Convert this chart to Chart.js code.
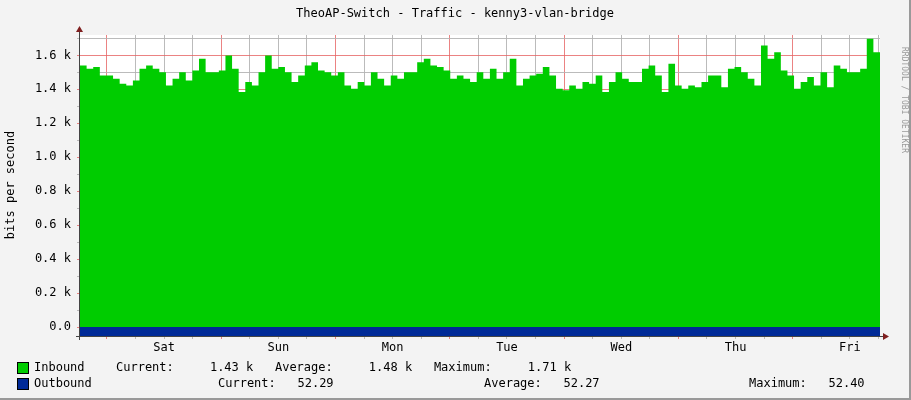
<!DOCTYPE html>
<html><head><meta charset="utf-8">
<script src="https://cdn.jsdelivr.net/npm/chart.js@4"></script>
<style>html,body{margin:0;padding:0;background:#f3f3f3}canvas{display:block}</style>
</head><body><div style="width:911px;height:400px"><canvas id="c"></canvas></div>
<script>
const title = "TheoAP-Switch - Traffic - kenny3-vlan-bridge";
const dayLabels = ["Sat","Sun","Mon","Tue","Wed","Thu","Fri"];
const spanHours = 168;
const firstMidnight = 5.667; // hours from left edge
const inbound = [1541,1521,1531,1482,1482,1462,1433,1423,1452,1521,1541,1521,1501,1423,1462,1501,1452,1511,1580,1501,1501,1511,1600,1521,1384,1443,1423,1501,1600,1521,1531,1501,1443,1482,1541,1560,1511,1501,1482,1501,1423,1403,1443,1423,1501,1462,1423,1482,1462,1501,1501,1560,1580,1541,1531,1511,1462,1482,1462,1443,1501,1462,
1521,1462,1501,1580,1423,1462,1482,1492,1531,1482,1403,1394,1423,1403,1443,1433,1482,1384,1443,1501,1462,1443,1443,1521,1541,1482,1384,1551,1423,1403,1423,1413,1443,1482,1482,1413,1521,1531,1501,1462,1423,1658,1580,1619,1511,1482,1403,1443,1472,1423,1501,1413,1541,1521,1501,1501,1521,1698,1619,1430];
const outboundValue = 52.29;
const legendRows = [
  ["Inbound","#00cc00","Current:     1.43 k   Average:     1.48 k   Maximum:     1.71 k", 116],
  ["Outbound","#002a97","Current:   52.29", 218]
];
const outExtra = [["Average:   52.27",484],["Maximum:   52.40",749]];

const n = inbound.length;
const inPts = inbound.map((v,i)=>({x: i*spanHours/(n-1), y: v}));
const outPts = inbound.map((v,i)=>({x: i*spanHours/(n-1), y: -outboundValue}));
const MONO = "'DejaVu Sans Mono', monospace";
const isMid = v => Math.abs(((v - firstMidnight) % 24 + 24) % 24) < 0.01;
const isNoon = v => Math.abs(((v - firstMidnight - 12) % 24 + 24) % 24) < 0.01;

const deco = {
  id:'deco',
  beforeDraw(c){
    const ctx=c.ctx, a=c.chartArea;
    ctx.save();
    ctx.fillStyle='#f3f3f3'; ctx.fillRect(0,0,c.width,c.height);
    ctx.fillStyle='#ffffff'; ctx.fillRect(a.left,a.top,a.right-a.left,a.bottom-a.top);
    ctx.restore();
  },
  afterDraw(c){
    const ctx=c.ctx, a=c.chartArea;
    ctx.save();
    ctx.fillStyle='#000'; ctx.font="12px "+MONO; ctx.textAlign='center'; ctx.textBaseline='middle';
    ctx.fillText(title,455,14);
    ctx.save(); ctx.translate(11,185); ctx.rotate(-Math.PI/2); ctx.fillText("bits per second",0,0); ctx.restore();
    ctx.save(); ctx.translate(904,100); ctx.rotate(Math.PI/2); ctx.fillStyle='#999'; ctx.font="8px "+MONO;
    ctx.fillText("RRDTOOL / TOBI OETIKER",0,0); ctx.restore();
    // axes
    ctx.strokeStyle='#444'; ctx.lineWidth=1;
    ctx.beginPath(); ctx.moveTo(a.left-0.5,a.bottom+4); ctx.lineTo(a.left-0.5,a.top-6); ctx.stroke();
    ctx.beginPath(); ctx.moveTo(a.left-4,a.bottom+0.5); ctx.lineTo(a.right+6,a.bottom+0.5); ctx.stroke();
    ctx.fillStyle='#7f1f1f';
    ctx.beginPath(); ctx.moveTo(a.left-4,a.top-3); ctx.lineTo(a.left+3,a.top-3); ctx.lineTo(a.left-0.5,a.top-9); ctx.fill();
    ctx.beginPath(); ctx.moveTo(a.right+3,a.bottom-3); ctx.lineTo(a.right+3,a.bottom+4); ctx.lineTo(a.right+9,a.bottom+0.5); ctx.fill();
    // legend
    ctx.textAlign='left'; ctx.font="12px "+MONO;
    legendRows.forEach((r,i)=>{
      const y=368+i*16;
      ctx.fillStyle=r[1]; ctx.fillRect(18,y-5,10,10);
      ctx.strokeStyle='#000'; ctx.strokeRect(17.5,y-5.5,11,11);
      ctx.fillStyle='#000'; ctx.fillText(r[0],34,y); ctx.fillText(r[2],r[3],y);
    });
    outExtra.forEach(e=>ctx.fillText(e[0],e[1],384));
    ctx.fillStyle='#999'; ctx.fillRect(0,398,911,2); ctx.fillRect(909,0,2,400);
    ctx.restore();
  }
};

new Chart(document.getElementById('c'),{
  type:'line',
  data:{datasets:[
    {label:'Inbound',data:inPts,fill:'origin',backgroundColor:'#00cc00',borderWidth:0,pointRadius:0,stepped:true,order:2},
    {label:'Outbound',data:outPts,fill:'origin',backgroundColor:'#002a97',borderWidth:0,pointRadius:0,order:1}
  ]},
  options:{
    responsive:true,maintainAspectRatio:false,animation:false,devicePixelRatio:1,
    layout:{padding:{top:35,right:31,left:0,bottom:0}},
    plugins:{legend:{display:false},tooltip:{enabled:false}},
    scales:{
      x:{type:'linear',min:0,max:spanHours,
        afterBuildTicks(s){const t=[];for(let v=firstMidnight-6*Math.floor(firstMidnight/6);v<spanHours;v+=6)t.push({value:v});s.ticks=t;},
        afterFit(s){s.height=64;},
        grid:{color:c=>isMid(c.tick.value)?'rgba(230,100,100,0.8)':'rgba(180,180,180,0.9)',borderDash:[1,2],tickLength:3,drawTicks:true},
        border:{display:false},
        ticks:{autoSkip:false,maxRotation:0,padding:2,color:'#000',font:{family:MONO,size:12},
          callback:v=>{if(!isNoon(v))return '';const d=Math.round((v-firstMidnight-12)/24);return dayLabels[d]||'';}}
      },
      y:{min:-outboundValue,max:1720,
        afterBuildTicks(s){const t=[];for(let v=0;v<=1700;v+=100)t.push({value:v});s.ticks=t;},
        afterFit(s){s.width=80;},
        grid:{color:c=>(c.tick.value%200===0)?'rgba(230,100,100,0.8)':'rgba(180,180,180,0.9)',borderDash:[1,2],tickLength:3},
        border:{display:false},
        ticks:{autoSkip:false,padding:6,color:'#000',font:{family:MONO,size:12},
          callback:v=>v%200!==0?'':(v===0?'0.0':(v/1000).toFixed(1)+' k')}
      }
    }
  },
  plugins:[deco]
});
</script></body></html>
